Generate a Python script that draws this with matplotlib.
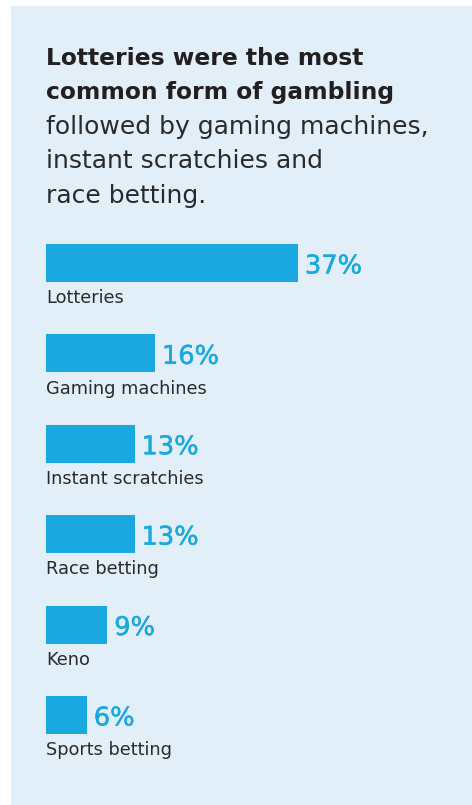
import matplotlib.pyplot as plt
import matplotlib.patheffects as pe
from matplotlib.patches import Rectangle

# Data
categories = ["Lotteries", "Gaming machines", "Instant scratchies",
              "Race betting", "Keno", "Sports betting"]
shares = [37, 16, 13, 13, 9, 6]
title_bold = ["Lotteries were the most", "common form of gambling"]
title_rest = ["followed by gaming machines,", "instant scratchies and", "race betting."]

BG = "#E2EFF9"
BAR = "#19A8E0"
INK = "#231F20"
FONT = "DejaVu Sans"

W, H = 472, 805
fig = plt.figure(figsize=(W / 100, H / 100), dpi=100)
fig.patch.set_facecolor("white")

# light blue panel
fig.patches.append(Rectangle((11 / W, 0), 1 - 11 / W, 1 - 6 / H,
                             transform=fig.transFigure, facecolor=BG,
                             edgecolor="none", zorder=-10))

# heading
x0 = 46 / W
y = 65
for line in title_bold:
    fig.text(x0, 1 - y / H, line, fontsize=16.8, fontweight="bold",
             color=INK, family=FONT, va="baseline")
    y += 34.5
for line in title_rest:
    fig.text(x0, 1 - y / H, line, fontsize=18, color="#2a2a2a",
             family=FONT, va="baseline")
    y += 34.5

# bar area: x scale ~6.81 px per percent, bar pitch ~90.4 px
ax_left, ax_right = 46, 466
ax_top, ax_bot = 220, 790
ax = fig.add_axes([ax_left / W, 1 - ax_bot / H,
                   (ax_right - ax_left) / W, (ax_bot - ax_top) / H])
ax.set_facecolor("none")
pitch = 90.4
ax.set_xlim(0, (ax_right - ax_left) / 6.81)
ax.set_ylim((ax_bot - 263) / pitch, (ax_top - 263) / pitch)
ax.axis("off")

pos = list(range(len(categories)))
ax.barh(pos, shares, height=38 / pitch, color=BAR, linewidth=0)

# medium-weight look for the percentages
thick = [pe.withStroke(linewidth=0.35, foreground=BAR)]
for i, (cat, v) in enumerate(zip(categories, shares)):
    ax.annotate(f"{v}%", (v, i), xytext=(5, -7.5), textcoords="offset points",
                fontsize=18.5, color=BAR, family=FONT,
                va="baseline", ha="left", path_effects=thick)
    ax.annotate(cat, (0, i), xytext=(0, -29), textcoords="offset points",
                fontsize=12.8, color="#2a2a2a", family=FONT,
                va="baseline", ha="left")

fig.savefig("out.png", dpi=100, facecolor=fig.get_facecolor())
